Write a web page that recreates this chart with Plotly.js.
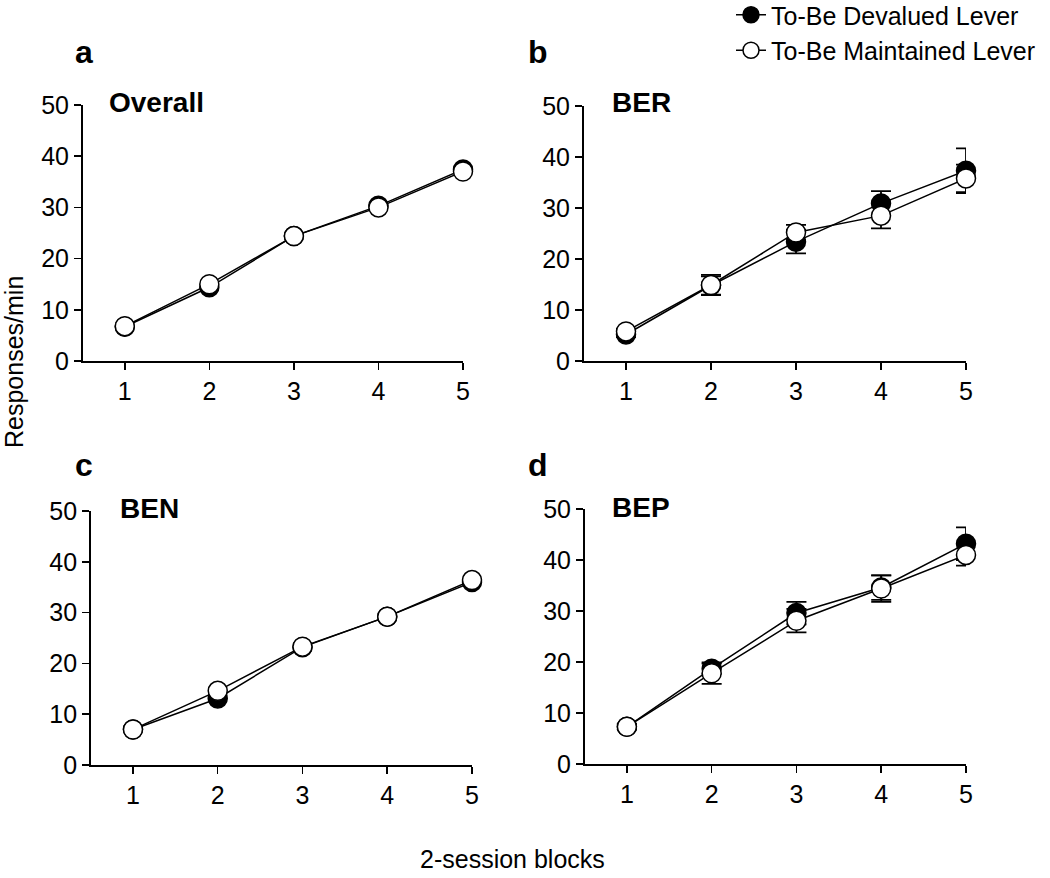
<!DOCTYPE html>
<html lang="en">
<head>
    <meta charset="UTF-8">
    <title>Responses per minute across 2-session blocks</title>
    <script src="https://cdn.plot.ly/plotly-3.0.1.min.js"></script>
    <style>
        body { margin: 0; background: white; }
        #plot { width: 1050px; height: 878px; }
    </style>
</head>
<body>
<div id="plot"></div>
<script>
    const blocks = [1, 2, 3, 4, 5];
    const yTicks = [0, 10, 20, 30, 40, 50];

    // panel a - Overall
    const overallDevalued = [6.7, 14.4, 24.4, 30.3, 37.4];
    const overallMaintained = [6.8, 15.0, 24.4, 30.0, 37.0];

    // panel b - BER
    const berDevalued = [5.2, 14.8, 23.4, 30.9, 37.3];
    const berDevaluedErr = [0.5, 1.8, 2.3, 2.4, 4.4];
    const berMaintained = [5.8, 14.9, 25.2, 28.5, 35.8];
    const berMaintainedErr = [0.5, 2.0, 1.5, 2.5, 2.7];

    // panel c - BEN
    const benDevalued = [7.0, 13.1, 23.2, 29.2, 36.0];
    const benMaintained = [7.0, 14.6, 23.3, 29.2, 36.4];

    // panel d - BEP
    const bepDevalued = [7.3, 18.7, 29.6, 34.6, 43.2];
    const bepDevaluedErr = [0.5, 1.0, 2.2, 2.4, 3.2];
    const bepMaintained = [7.3, 17.8, 28.1, 34.4, 41.0];
    const bepMaintainedErr = [0.5, 2.1, 2.3, 2.6, 2.1];

    const FONT = 'Liberation Sans, Arial, sans-serif';

    function series(y, err, filled, xa, ya, showlegend) {
        const t = {
            x: blocks,
            y: y,
            type: 'scatter',
            mode: 'lines+markers',
            xaxis: xa,
            yaxis: ya,
            name: filled ? 'To-Be Devalued Lever' : 'To-Be Maintained Lever',
            showlegend: showlegend,
            cliponaxis: false,
            line: {color: 'black', width: 1.5},
            marker: {
                size: 19,
                color: filled ? 'black' : 'white',
                line: {color: 'black', width: 1.5}
            }
        };
        if (err) {
            t.error_y = {type: 'data', array: err, visible: true, color: 'black', thickness: 1.8, width: 10};
        }
        return t;
    }

    const traces = [
        series(overallDevalued, null, true, 'x', 'y', true),
        series(overallMaintained, null, false, 'x', 'y', true),
        series(berDevalued, berDevaluedErr, true, 'x2', 'y2', false),
        series(berMaintained, berMaintainedErr, false, 'x2', 'y2', false),
        series(benDevalued, null, true, 'x3', 'y3', false),
        series(benMaintained, null, false, 'x3', 'y3', false),
        series(bepDevalued, bepDevaluedErr, true, 'x4', 'y4', false),
        series(bepMaintained, bepMaintainedErr, false, 'x4', 'y4', false)
    ];

    function xAxis(domain, anchor) {
        return {
            domain: domain, anchor: anchor, range: [0.5, 5],
            tickvals: blocks, showline: true, linecolor: 'black', linewidth: 1.5,
            ticks: 'outside', ticklen: 7, tickwidth: 1.5, tickcolor: 'black',
            showgrid: false, zeroline: false,
            tickfont: {family: FONT, size: 25, color: 'black'}
        };
    }

    function yAxis(domain, anchor) {
        return {
            domain: domain, anchor: anchor, range: [0, 50],
            tickvals: yTicks, showline: true, linecolor: 'black', linewidth: 1.5,
            ticks: 'outside', ticklen: 7, tickwidth: 1.5, tickcolor: 'black',
            showgrid: false, zeroline: false,
            tickfont: {family: FONT, size: 25, color: 'black'}
        };
    }

    function label(text, x, y, size, bold, extra) {
        return Object.assign({
            text: bold ? '<b>' + text + '</b>' : text,
            xref: 'paper', yref: 'paper', x: x / 1050, y: 1 - y / 878,
            showarrow: false, xanchor: 'center', yanchor: 'middle',
            font: {family: FONT, size: size, color: 'black'}
        }, extra || {});
    }

    const layout = {
        width: 1050,
        height: 878,
        margin: {l: 0, r: 0, t: 0, b: 0, autoexpand: false},
        paper_bgcolor: 'white',
        plot_bgcolor: 'white',
        xaxis: xAxis([82.5 / 1050, 463 / 1050], 'y'),
        yaxis: yAxis([1 - 361 / 878, 1 - 105 / 878], 'x'),
        xaxis2: xAxis([583.5 / 1050, 966 / 1050], 'y2'),
        yaxis2: yAxis([1 - 361 / 878, 1 - 106 / 878], 'x2'),
        xaxis3: xAxis([90.6 / 1050, 472 / 1050], 'y3'),
        yaxis3: yAxis([1 - 765 / 878, 1 - 511 / 878], 'x3'),
        xaxis4: xAxis([584.5 / 1050, 966 / 1050], 'y4'),
        yaxis4: yAxis([1 - 764 / 878, 1 - 509 / 878], 'x4'),
        showlegend: true,
        legend: {
            x: 731 / 1050, xanchor: 'left', y: 1 + 8 / 878, yanchor: 'top',
            bgcolor: 'rgba(0,0,0,0)',
            font: {family: FONT, size: 25, color: 'black'}
        },
        annotations: [
            label('a', 84, 52, 32, true),
            label('b', 538, 52, 32, true),
            label('c', 84, 465, 32, true),
            label('d', 538, 465, 32, true),
            label('Overall', 107, 102, 28, true, {xanchor: 'left'}),
            label('BER', 610, 102, 28, true, {xanchor: 'left'}),
            label('BEN', 118, 508, 28, true, {xanchor: 'left'}),
            label('BEP', 610, 507, 28, true, {xanchor: 'left'}),
            label('Responses/min', 14, 362, 25, false, {textangle: -90}),
            label('2-session blocks', 512, 859, 25, false)
        ]
    };

    Plotly.newPlot('plot', traces, layout, {displayModeBar: false, staticPlot: true});
</script>
</body>
</html>
